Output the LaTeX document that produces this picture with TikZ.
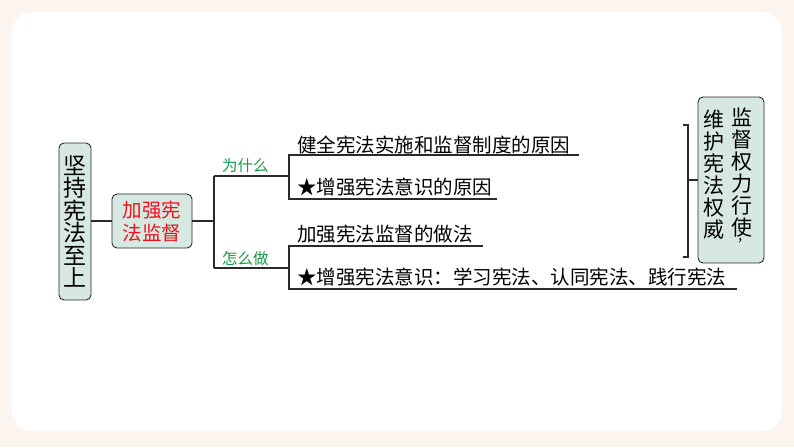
\documentclass[tikz,border=0pt]{standalone}
\usepackage{fontspec}
\setmainfont{Noto Sans CJK SC}
\definecolor{bgpeach}{HTML}{FCF4EE}
\definecolor{boxfill}{HTML}{D7E7E1}
\definecolor{redtxt}{HTML}{E8141E}
\definecolor{greentxt}{HTML}{1A9A4A}
\definecolor{linecol}{HTML}{2A2A2A}
\tikzset{
  box/.style={draw=linecol, line width=0.9pt, fill=boxfill, rounded corners=5pt, inner sep=0pt, align=center},
  linetxt/.style={anchor=west, inner sep=0pt, font=\fontsize{19.5}{22}\selectfont},
  greenlbl/.style={anchor=west, inner sep=0pt, text=greentxt, font=\fontsize{15.5}{17}\selectfont},
  conn/.style={draw=linecol, line width=1.1pt},
  vcol/.style={anchor=north, inner sep=0pt, align=center, font=\fontsize{21}{22}\selectfont}
}
\begin{document}
\begin{tikzpicture}[x=1pt,y=-1pt]
\useasboundingbox (0,0) rectangle (794,447);
\fill[bgpeach] (0,0) rectangle (794,447);
\fill[white, rounded corners=20pt] (12,12) rectangle (782,431);

% left main box
\node[box, minimum width=32pt, minimum height=157pt, font=\fontsize{23}{22.5}\selectfont] (b1) at (75,221.5) {坚\\持\\宪\\法\\至\\上};
% middle red box
\node[box, minimum width=80pt, minimum height=54pt, text=redtxt, font=\fontsize{19.5}{23}\selectfont] (b2) at (152,221) {加强宪\\法监督};
% right box
\node[box, minimum width=66pt, minimum height=166pt] (b3) at (731,180) {};
\node[vcol] (c1) at (742,108) {监\\督\\权\\力\\行\\使};
\node[anchor=north west, inner sep=0pt, font=\fontsize{13}{13}\selectfont] (cm) at ([xshift=-5pt]c1.south) {，};
\node[vcol] (c2) at (714,110) {维\\护\\宪\\法\\权\\威};

% coordinates
\coordinate (f) at (214,221);
\coordinate (fa) at (214,176);
\coordinate (fb) at (214,268);
\coordinate (ua) at (289,176);
\coordinate (ut) at (289,155);
\coordinate (ub) at (289,199);
\coordinate (la) at (289,268);
\coordinate (lt) at (289,246);
\coordinate (lb) at (289,289);
\coordinate (e1) at (579,155);
\coordinate (e2) at (497,199);
\coordinate (e3) at (483,246);
\coordinate (e4) at (737,289);
\coordinate (rt) at (683,125);
\coordinate (rtc) at (688,125);
\coordinate (rbc) at (688,257);
\coordinate (rb) at (683,257);
\coordinate (rm) at (688,180);

% connectors
\draw[conn] (b1.east |- b2.west) -- (b2.west);
\draw[conn] (b2.east) -- (f);
\draw[conn] (fa) -- (fb);
\draw[conn] (fa) -- (ua);
\draw[conn] (fb) -- (la);
\draw[conn] (e1) -- (ut) -- (ub) -- (e2);
\draw[conn] (e3) -- (lt) -- (lb) -- (e4);
\draw[conn] (rt) -- (rtc) -- (rbc) -- (rb);
\draw[conn] (rm) -- (b3.west);

% labels
\node[greenlbl] (why) at (222,166) {为什么};
\node[greenlbl] (how) at (222,259) {怎么做};
\node[linetxt] (t1) at (297,145) {健全宪法实施和监督制度的原因};
\node[linetxt] (t2) at (297,187) {★增强宪法意识的原因};
\node[linetxt] (t3) at (297,234) {加强宪法监督的做法};
\node[linetxt] (t4) at (297,277) {★增强宪法意识：学习宪法、认同宪法、践行宪法};
\end{tikzpicture}
\end{document}
